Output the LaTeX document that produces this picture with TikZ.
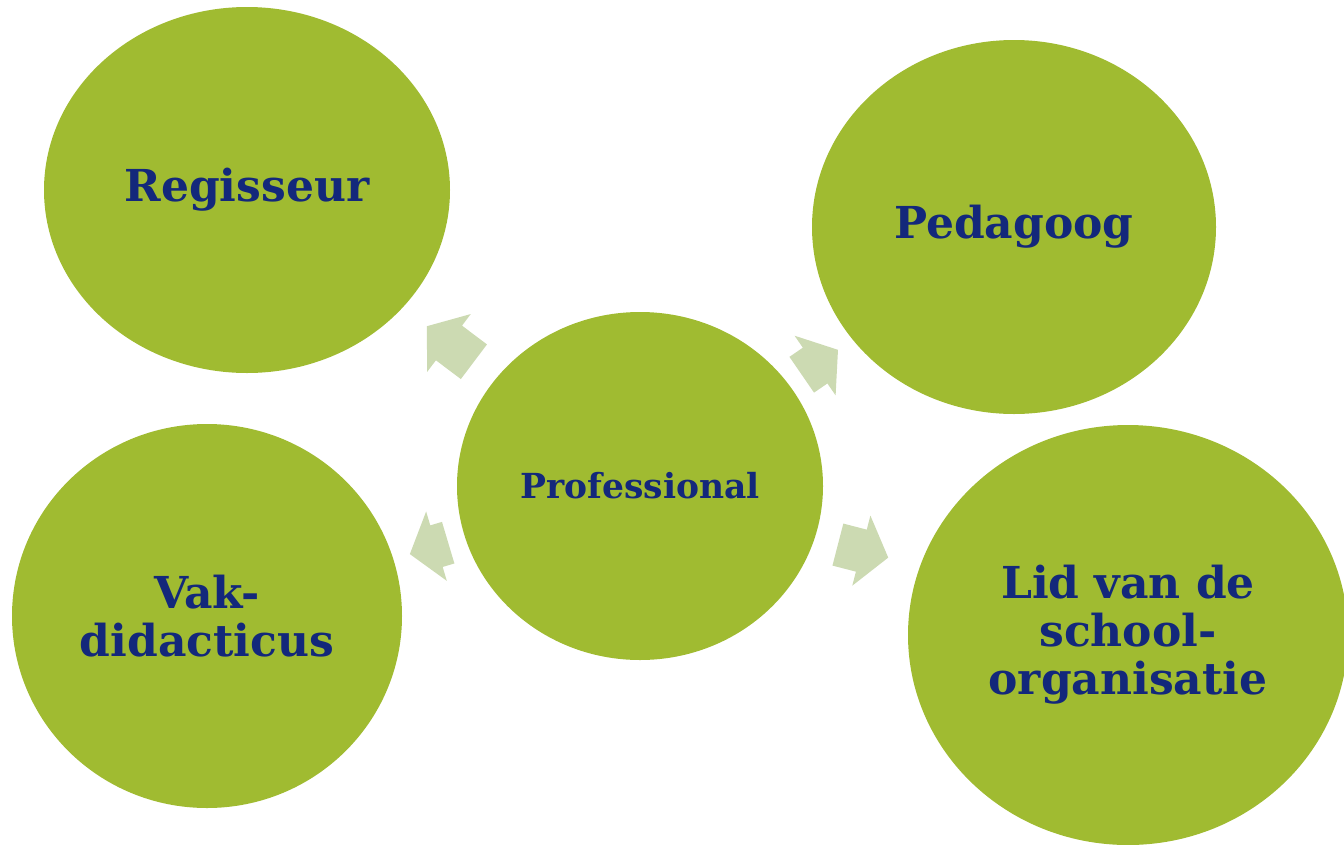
\documentclass[tikz,border=0pt]{standalone}
\usepackage{fontspec}
\setmainfont{DejaVu Serif}
\usetikzlibrary{shapes.geometric,shapes.arrows}
\definecolor{leaf}{HTML}{A0BB31}
\definecolor{navy}{HTML}{13287B}
\definecolor{pale}{HTML}{CCDAB2}

\begin{document}
\begin{tikzpicture}[x  = 1pt,
                    y  = -1pt,
                    role/.style = {ellipse, fill=leaf, draw=none, inner sep=0pt,
                                   text=navy, align=center,
                                   font=\bfseries\fontsize{44}{48}\selectfont},
                    push/.style = {single arrow, fill=pale, draw=none,
                                   inner xsep=0pt, inner ysep=21.5pt,
                                   single arrow head extend=14.5pt,
                                   single arrow tip angle=105}]

\clip (0,0) rectangle (1344,844);

%outer roles
\node [role, minimum width=406pt, minimum height=366pt] (reg) at (247,190) {Regisseur};
\node [role, minimum width=404pt, minimum height=374pt] (ped) at (1014,227) {Pedagoog};
\node [role, minimum width=390pt, minimum height=384pt] (vak) at (207,616) {Vak-\\didacticus};
\node [role, minimum width=440pt, minimum height=420pt] (lid) at (1128,635) {Lid van de\\school-\\organisatie};

%centre
\node [role, minimum width=366pt, minimum height=348pt,
       font=\bfseries\fontsize{34.5}{38}\selectfont] (pro) at (640,486) {Professional};

%arrows
\node [push, minimum height=59pt, rotate=143]   (toreg) at (457,349) {};
\node [push, minimum height=44pt, rotate=34.5]  (toped) at (813,367) {};
\node [push, minimum height=40pt, rotate=196.6] (tovak) at (437,546) {};
\node [push, minimum height=52pt, rotate=-14.5] (tolid) at (855,549) {};

\end{tikzpicture}
\end{document}
